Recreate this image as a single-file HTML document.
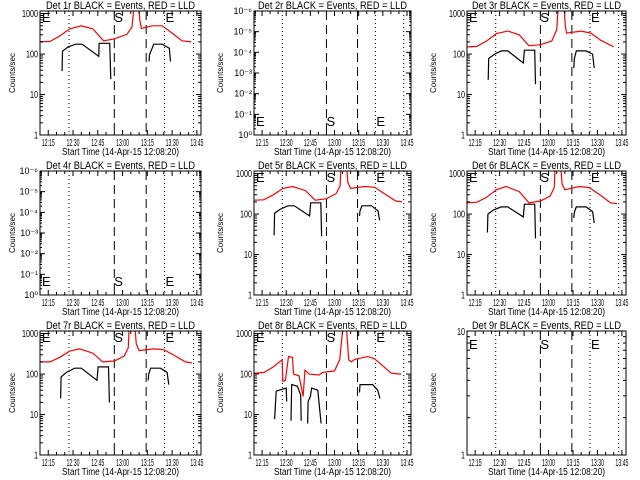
<!DOCTYPE html>
<html><head><meta charset="utf-8"><style>
html,body{margin:0;padding:0;background:#fff;}
svg{display:block;font-family:"Liberation Sans",sans-serif;}
</style></head><body>
<svg id="chart" width="640" height="480" viewBox="0 0 640 480"></svg>
<script>
// ---- data (minutes after 12:00, counts/sec); null = gap ----
const xTickMinutes = [15,30,45,60,75,90,105];
const xTickLabels = ["12:15","12:30","12:45","13:00","13:15","13:30","13:45"];
const logTickValues = [1,10,100,1000];
const logTickLabels = ["1","10","100","1000"];
const expTickLabels = ["10⁰","10⁻¹","10⁻²","10⁻³","10⁻⁴","10⁻⁵","10⁻⁶"];
const dottedMinutes = [27.6,85.4,103];
const dashedMinutes = [55,74.3];
const titles = ["Det 1r","Det 2r","Det 3r","Det 4r","Det 5r","Det 6r","Det 7r","Det 8r","Det 9r"];

const red1T = [10,16,22,28,35,42,48.5,54.5,62.6,65.7,67,69.8,70.5,71.4,77.9,84,90,96,101.6];
const red1V = [203,205,280,420,500,420,213,235,307,470,1500,1500,676,430,500,500,330,213,200];
const blk1T = [23.4,23.6,27,31.6,35.5,45.6,45.8,52.2,52.9,null,76,76.3,78.9,84,88.3,89];
const blk1V = [38,118,150,175,175,88,185,185,24,null,66,96,175,175,140,65];

const red3T = [10,16,22,28,35,42,48,55,62,65,66,69.5,70.3,71,80,86,92,100];
const red3V = [150,155,210,320,370,300,160,170,210,400,1500,1500,500,330,370,330,220,150];
const blk3T = [23,23.3,27,31,35,44.5,45.2,51.5,52,null,75.5,75.8,77,83,87,88];
const blk3V = [23,78,100,120,120,60,125,125,18,null,45,75,120,120,100,45];

const red5T = [10,16,22,28,34,42,48,55,61,63.5,64,67.5,68.3,70,79,85,92,98,102];
const red5V = [220,225,300,430,480,380,220,240,320,500,1500,1500,600,430,480,460,300,210,200];
const blk5T = [22.5,22.8,26,31,35,44.5,45.2,51.5,52,null,75.5,75.8,77,83,87,88];
const blk5V = [30,105,130,160,160,90,190,190,28,null,90,120,160,160,120,70];

const red6T = [10,16,22,28,34,42,48,55,61,63.5,64,67.5,68.3,70,79,85,92,98,102];
const red6V = [190,195,260,400,480,360,190,210,280,450,1500,1500,550,400,480,450,290,190,180];
const blk6T = [22.5,22.8,26,31,35,44.5,45.2,51.5,52,null,75.5,75.8,77,83,87,88];
const blk6V = [35,100,125,150,150,85,175,175,25,null,80,110,150,150,115,60];

const red7T = [10,16,22,28,34,42,48,55,61,63.5,64,67.5,68.3,70,79,85,92,98,102];
const red7V = [200,200,260,370,420,330,200,210,280,450,1500,1500,550,380,420,400,280,200,190];
const blk7T = [22.5,22.8,26,31,35,44.5,45.2,51.5,52,null,75.5,75.8,77,83,87,88];
const blk7V = [25,85,110,140,140,70,150,150,20,null,70,100,140,140,110,55];

const red8T = [10,16.4,22,27.5,27.9,29.5,31.4,33.9,34.5,38,40.5,41.7,44.2,50.4,52.5,60,63.2,65.3,67.4,68.8,70.5,72.5,80.7,84.8,90,95.2,101.4];
const red8V = [105,110,150,225,66,70,270,260,100,90,28,125,100,95,110,120,225,1500,1500,225,200,230,270,240,160,105,100];
const blk8T = [22.8,23.8,30,30.3,null,33,33.4,37,39,39.3,null,43.3,43.6,45,45.8,49.6,51.7,null,75.5,75.8,83.7,86.8,88.2];
const blk8V = [7.7,38,45,21,null,7,55,50,30,7,null,6,21,28,45,40,6,null,35,55,55,40,25];

const redT = [red1T,null,red3T,null,red5T,red6T,red7T,red8T,null];
const redV = [red1V,null,red3V,null,red5V,red6V,red7V,red8V,null];
const blkT = [blk1T,null,blk3T,null,blk5T,blk6T,blk7T,blk8T,null];
const blkV = [blk1V,null,blk3V,null,blk5V,blk6V,blk7V,blk8V,null];
const axisKind = ["log3","exp","log3","exp","log3","log3","log3","log3","log1"];

// ---- layout ----
const colX = [[40,201],[254,411],[467,626]];
const rowY = [[11,135],[171,295],[331,455]];
const T0 = 10, T1 = 107.5;
const NS = "http://www.w3.org/2000/svg";
const svg = document.getElementById('chart');
function mk(tag, attrs, parent){
  const e = document.createElementNS(NS, tag);
  for (const k in attrs) e.setAttribute(k, attrs[k]);
  (parent||svg).appendChild(e);
  return e;
}

for (let p=0;p<9;p++){
  const [x0,x1] = colX[p%3], [y0,y1] = rowY[Math.floor(p/3)];
  const g = mk('g',{});
  
  
  const xs = t => x0 + (t-T0)/(T1-T0)*(x1-x0);
  const kind = axisKind[p];
  const lmin = 0, lmax = kind==="log1" ? 1 : Math.log10(1160);
  const ys = v => y1 - (Math.log10(v)-lmin)/(lmax-lmin)*(y1-y0);

  const cid = 'clip'+p;
  const cp = mk('clipPath',{id:cid},g);
  mk('rect',{x:x0,y:y0,width:x1-x0,height:y1-y0},cp);

  const tt = mk('text',{x:(x0+x1)/2,y:y0-2,'text-anchor':'middle','font-size':11,textLength:149,lengthAdjust:'spacingAndGlyphs'},g);
  tt.textContent = titles[p]+" BLACK = Events, RED = LLD";
  
  

  dottedMinutes.forEach(m=>{
    const l = mk('line',{x1:xs(m),x2:xs(m),y1:y0,y2:y1,stroke:'#000','stroke-width':1,'stroke-dasharray':'1,3'},g);
    
    
  });
  dashedMinutes.forEach(m=>{
    const l = mk('line',{x1:xs(m),x2:xs(m),y1:y0,y2:y1,stroke:'#000','stroke-width':1,'stroke-dasharray':'9,5'},g);
    
    
  });

  let ly = y0+11;
  if (kind==="exp") ly = y1-9;
  if (kind==="log1") ly = y0+18;
  [[x0+2,"E"],[xs(dashedMinutes[0]),"S"],[xs(dottedMinutes[1])+1,"E"]].forEach(([lx,s])=>{
    const t = mk('text',{x:lx,y:ly,'font-size':13},g);
    t.textContent = s;
    
    
  });

  function drawSeries(T,V,color,name){
    if(!T) return;
    let d="", pen=false;
    for(let i=0;i<T.length;i++){
      if(T[i]===null){pen=false;continue;}
      d += (pen?"L":"M")+xs(T[i]).toFixed(1)+","+ys(V[i]).toFixed(1);
      pen=true;
    }
    const pa = mk('path',{d:d,fill:'none',stroke:color,'stroke-width':1.2,'clip-path':'url(#'+cid+')'},g);
    
    
  }
  drawSeries(redT[p],redV[p],'#f00','lld-series');
  drawSeries(blkT[p],blkV[p],'#000','events-series');

  const bx = mk('rect',{x:x0,y:y0,width:x1-x0,height:y1-y0,fill:'none',stroke:'#000','stroke-width':1},g);
  
  

  for(let m=15;m<=105;m+=5){
    const len = (m%15===0)?5:3;
    const X = xs(m);
    mk('line',{x1:X,x2:X,y1:y1,y2:y1-len,stroke:'#000'},g);
    mk('line',{x1:X,x2:X,y1:y0,y2:y0+len,stroke:'#000'},g);
  }
  xTickMinutes.forEach((m,i)=>{
    const t = mk('text',{x:xs(m),y:y1+11,'text-anchor':'middle','font-size':10,textLength:13,lengthAdjust:'spacingAndGlyphs'},g);
    t.textContent = xTickLabels[i];
    
    
  });
  const xt = mk('text',{x:(x0+x1)/2,y:y1+20,'text-anchor':'middle','font-size':10,textLength:117,lengthAdjust:'spacingAndGlyphs'},g);
  xt.textContent = "Start Time (14-Apr-15 12:08:20)";
  
  

  if(kind==="exp"){
    expTickLabels.forEach((s,i)=>{
      const Y = y1 - i*(y1-y0)/6;
      mk('line',{x1:x0,x2:x0+5,y1:Y,y2:Y,stroke:'#000'},g);
      mk('line',{x1:x1,x2:x1-5,y1:Y,y2:Y,stroke:'#000'},g);
      for(let k=1;k<9&&i<6;k++){
        const yy = Y - Math.log10(1+k)*(y1-y0)/6;
        mk('line',{x1:x0,x2:x0+2,y1:yy,y2:yy,stroke:'#000'},g);
        mk('line',{x1:x1,x2:x1-2,y1:yy,y2:yy,stroke:'#000'},g);
      }
      const t = mk('text',{x:x0-2,y:Y+3,'text-anchor':'end','font-size':9},g);
      t.textContent = s;
      
      
    });
  } else {
    const decs = kind==="log1"?[1]:[1,10,100,1000];
    decs.forEach(dv=>{
      for(let k=1;k<=9;k++){
        const v = dv*k;
        if(Math.log10(v)>lmax) break;
        const Y = ys(v), len = k===1?5:3;
        mk('line',{x1:x0,x2:x0+len,y1:Y,y2:Y,stroke:'#000'},g);
        mk('line',{x1:x1,x2:x1-len,y1:Y,y2:Y,stroke:'#000'},g);
      }
    });
    const tv = kind==="log1"?[1,10]:logTickValues;
    tv.forEach(v=>{
      const s = kind==="log1"?String(v):logTickLabels[logTickValues.indexOf(v)];
      const t = mk('text',{x:x0-2,y:Math.max(ys(v)+3.5,y0+4),'text-anchor':'end','font-size':10,textLength:4*s.length,lengthAdjust:'spacingAndGlyphs'},g);
      t.textContent = s;
      
      
    });
  }
  const yl = mk('text',{x:0,y:0,'text-anchor':'middle','font-size':8,textLength:40,lengthAdjust:'spacingAndGlyphs',transform:'translate('+(p%3===0?x0-25:x0-31)+','+((y0+y1)/2)+') rotate(-90)'},g);
  yl.textContent = "Counts/sec";
  
  
}
</script>
</body></html>
